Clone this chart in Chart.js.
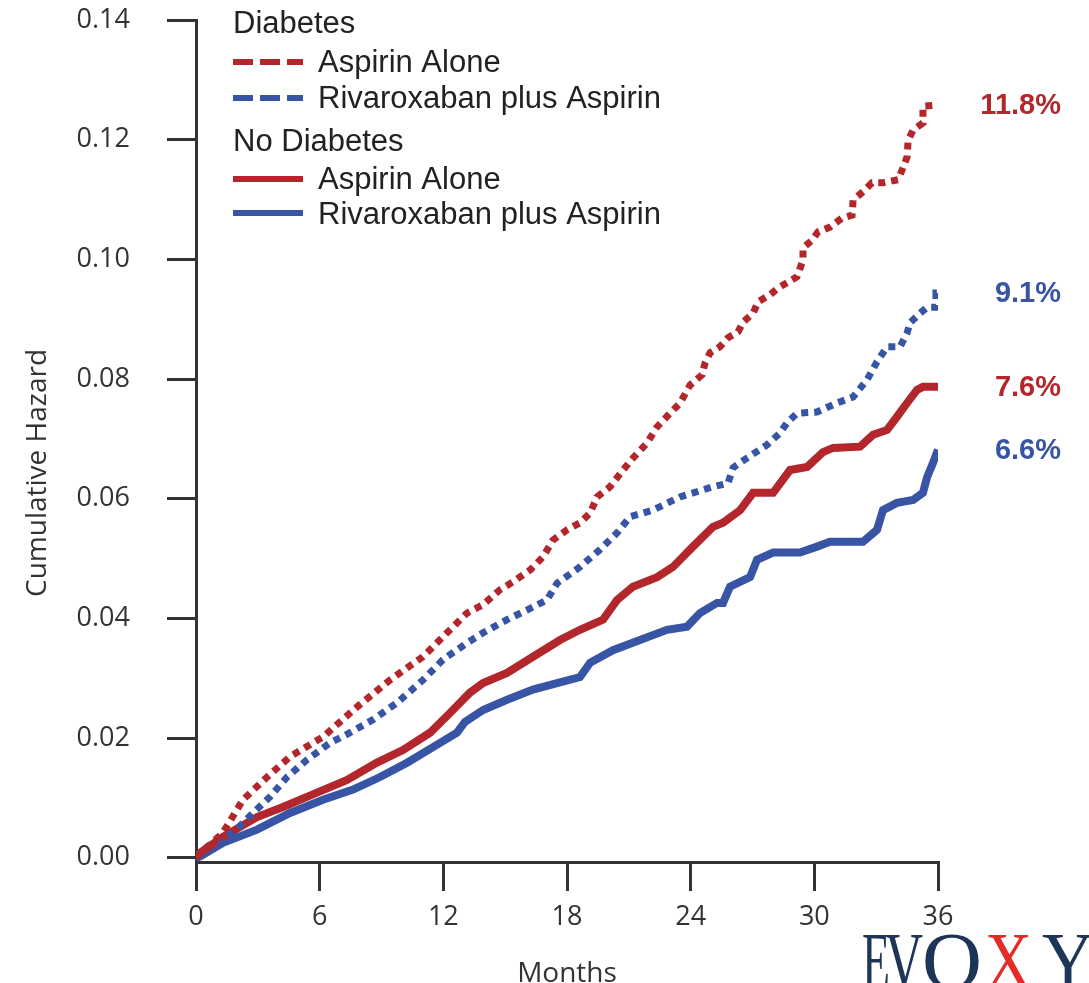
<!DOCTYPE html>
<html><head><meta charset="utf-8">
<script src="https://cdn.jsdelivr.net/npm/chart.js@4.4.0/dist/chart.umd.min.js"></script>
<style>html,body{margin:0;padding:0;background:#fff;}#wrap{width:1089px;height:983px;}</style>
</head><body><div id="wrap"><canvas id="c" width="1089" height="983"></canvas></div>
<script>
// ---- data ----
const xTicks = [0, 6, 12, 18, 24, 30, 36];
const yTicks = [0, 0.02, 0.04, 0.06, 0.08, 0.10, 0.12, 0.14];

const diabAspMonths = [0,0.68,1.31,2.28,3.45,4.56,6.16,7.81,9.41,11.01,12.18,13.15,13.93,14.75,15.38,16.21,16.84,17.32,18.0,18.63,19.12,19.46,20.09,20.72,21.2,21.88,22.37,23.0,23.49,23.97,24.55,24.7,24.94,25.42,25.81,26.3,26.54,27.03,27.27,27.85,28.24,28.68,29.16,29.45,29.45,29.89,30.18,30.76,31.34,31.83,31.88,32.36,32.8,33.33,34.06,34.3,34.5,34.55,34.79,35.27,35.27,36];
const diabAspHazard = [0,0.0022,0.0042,0.0097,0.0135,0.0169,0.0202,0.0252,0.0297,0.0336,0.0376,0.0409,0.0423,0.0448,0.0461,0.0481,0.0503,0.0531,0.0548,0.0560,0.0576,0.0603,0.0620,0.0648,0.0668,0.0693,0.0720,0.0743,0.0760,0.0790,0.0807,0.0827,0.0844,0.0854,0.0869,0.0879,0.0895,0.0910,0.0929,0.0941,0.0952,0.0961,0.0971,0.0999,0.1019,0.1032,0.1046,0.1054,0.1069,0.1074,0.1099,0.1113,0.1128,0.1128,0.1133,0.1153,0.1171,0.1199,0.1216,0.1228,0.1256,0.1258];

const diabRivMonths = [0,0.53,1.8,2.77,3.59,4.42,5.39,6.5,7.47,8.59,9.75,11.01,11.98,13.15,13.93,15.09,16.06,17.03,17.52,18.63,19.6,20.43,21.06,22.17,23.48,25.08,25.81,26.06,26.73,27.7,28.34,28.68,29.16,30.13,31.1,31.88,32.56,33.04,33.53,34.16,34.5,34.64,35.13,35.47,35.9,35.9,36];
const diabRivHazard = [0,0.0018,0.0042,0.0075,0.0102,0.0135,0.0164,0.0192,0.0209,0.0231,0.0259,0.0297,0.0331,0.0359,0.0376,0.0398,0.0414,0.0431,0.0459,0.0486,0.0515,0.0543,0.0570,0.0581,0.0603,0.0620,0.0626,0.0652,0.0668,0.0690,0.0710,0.0727,0.0743,0.0745,0.0760,0.0770,0.0799,0.0829,0.0854,0.0854,0.0877,0.0894,0.0910,0.0920,0.0920,0.0944,0.0944];

const noDiabAspMonths = [0,0.19,1.31,2.96,4.22,5.87,7.33,8.78,10.04,11.35,12.32,13.29,13.93,15.09,16.35,17.66,18.63,19.75,20.43,21.2,22.37,23.14,24.11,25.08,25.57,26.4,27.03,28.0,28.82,29.65,30.42,30.91,32.22,32.85,33.53,34.01,34.5,34.98,35.27,36];
const noDiabAspHazard = [0,0.0008,0.0035,0.0068,0.0085,0.0109,0.0130,0.0159,0.0180,0.0209,0.0242,0.0276,0.0292,0.0309,0.0336,0.0364,0.0381,0.0398,0.0431,0.0453,0.0469,0.0486,0.0520,0.0553,0.0560,0.0581,0.0610,0.0610,0.0648,0.0653,0.0678,0.0685,0.0687,0.0707,0.0715,0.0737,0.0760,0.0782,0.0787,0.0787];

const noDiabRivMonths = [0,0.19,1.31,2.96,4.56,6.16,7.62,8.93,10.24,11.5,12.66,13.05,13.93,15.09,16.35,17.52,18.63,19.12,20.23,21.54,22.85,23.82,24.45,25.28,25.57,25.91,26.88,27.22,28.0,29.3,30.13,30.76,32.36,33.04,33.33,34.01,34.79,35.27,35.47,35.76,36];
const noDiabRivHazard = [0,0.0002,0.0025,0.0047,0.0075,0.0097,0.0114,0.0135,0.0159,0.0185,0.0209,0.0227,0.0247,0.0264,0.0281,0.0292,0.0302,0.0326,0.0347,0.0364,0.0381,0.0386,0.0409,0.0426,0.0426,0.0453,0.0469,0.0498,0.0510,0.0510,0.0520,0.0528,0.0528,0.0548,0.0581,0.0593,0.0598,0.0610,0.0636,0.0660,0.0682];

const seriesNames = ['Diabetes: Aspirin Alone','Diabetes: Rivaroxaban plus Aspirin','No Diabetes: Aspirin Alone','No Diabetes: Rivaroxaban plus Aspirin'];
const endLabels = ['11.8%', '9.1%', '7.6%', '6.6%'];

// ---- styles ----
const RED = '#b2262c';
const BLUE = '#3854a4';
const AXIS = '#333333';

function pts(xs, ys) { return xs.map((x, i) => ({x: x, y: ys[i]})); }

const datasets = [
  {label: seriesNames[0], data: pts(diabAspMonths, diabAspHazard), borderColor: RED, borderDash: [7, 6], borderWidth: 7},
  {label: seriesNames[1], data: pts(diabRivMonths, diabRivHazard), borderColor: BLUE, borderDash: [7, 6], borderWidth: 7},
  {label: seriesNames[2], data: pts(noDiabAspMonths, noDiabAspHazard), borderColor: RED, borderWidth: 8},
  {label: seriesNames[3], data: pts(noDiabRivMonths, noDiabRivHazard), borderColor: BLUE, borderWidth: 8}
].map(d => Object.assign({pointRadius: 0, tension: 0, fill: false, borderCapStyle: 'butt', borderJoinStyle: 'miter'}, d));

const overlay = {
  id: 'overlay',
  afterDraw(chart) {
    const ctx = chart.ctx;
    const ys = chart.scales.y;
    ctx.save();
    // legend
    ctx.fillStyle = '#222';
    ctx.font = '31px "Liberation Sans", Arial, sans-serif';
    ctx.textAlign = 'left';
    ctx.textBaseline = 'alphabetic';
    ctx.fillText('Diabetes', 233, 33);
    ctx.fillText('No Diabetes', 233, 151);
    const items = [
      {y: 62, base: 72, color: RED, dash: [20, 7], text: 'Aspirin Alone'},
      {y: 98, base: 108, color: BLUE, dash: [20, 7], text: 'Rivaroxaban plus Aspirin'},
      {y: 179, base: 189, color: RED, dash: [], text: 'Aspirin Alone'},
      {y: 213, base: 224, color: BLUE, dash: [], text: 'Rivaroxaban plus Aspirin'}
    ];
    items.forEach(it => {
      ctx.beginPath();
      ctx.setLineDash(it.dash);
      ctx.strokeStyle = it.color;
      ctx.lineWidth = 6;
      ctx.lineCap = 'butt';
      ctx.moveTo(233, it.y);
      ctx.lineTo(303, it.y);
      ctx.stroke();
      ctx.setLineDash([]);
      ctx.fillStyle = '#222';
      ctx.fillText(it.text, 318, it.base);
    });
    // end labels
    const lastVals = [diabAspHazard, diabRivHazard, noDiabAspHazard, noDiabRivHazard].map(a => a[a.length - 1]);
    const lblColors = [RED, BLUE, RED, BLUE];
    ctx.font = 'bold 29px "Liberation Sans", Arial, sans-serif';
    ctx.textAlign = 'right';
    ctx.textBaseline = 'middle';
    endLabels.forEach((t, i) => {
      ctx.fillStyle = lblColors[i];
      ctx.fillText(t, 1061, ys.getPixelForValue(lastVals[i]) + 1);
    });
    // axis titles
    ctx.fillStyle = AXIS;
    ctx.font = '28px "Open Sans", sans-serif';
    ctx.textAlign = 'center';
    ctx.textBaseline = 'alphabetic';
    ctx.fillText('Months', 567, 982);
    ctx.save();
    ctx.translate(46, 473);
    ctx.rotate(-Math.PI / 2);
    ctx.fillText('Cumulative Hazard', 0, 0);
    ctx.restore();
    // watermark
    ctx.font = '80px "Liberation Serif", serif';
    ctx.textAlign = 'left';
    ctx.textBaseline = 'alphabetic';
    const wm = [['E', 862, 28, '#1d3557'], ['V', 885, 38, '#1d3557'], ['O', 922, 60, '#1d3557'], ['X', 985, 47, '#e52a2a'], ['Y', 1042, 52, '#1d3557']];
    wm.forEach(w => {
      const natural = ctx.measureText(w[0]).width;
      ctx.save();
      ctx.translate(w[1], 988);
      ctx.scale(w[2] / natural, 1);
      ctx.fillStyle = w[3];
      ctx.fillText(w[0], 0, 0);
      ctx.restore();
    });
    ctx.restore();
  }
};

new Chart(document.getElementById('c'), {
  type: 'line',
  data: {datasets: datasets},
  options: {
    responsive: false,
    devicePixelRatio: 1,
    animation: false,
    layout: {padding: {left: 0, top: 20, right: 151, bottom: 0}},
    plugins: {legend: {display: false}, tooltip: {enabled: false}, title: {display: false}},
    scales: {
      x: {
        type: 'linear', min: 0, max: 36,
        afterBuildTicks: s => { s.ticks = xTicks.map(v => ({value: v})); },
        afterFit: s => { s.height = 121; s.paddingLeft = 0; s.paddingRight = 0; },
        ticks: {font: {family: 'Open Sans', size: 27}, color: AXIS, padding: 10, maxRotation: 0, autoSkip: false},
        grid: {drawOnChartArea: false, drawTicks: true, tickLength: 29, tickWidth: 3, tickColor: AXIS, lineWidth: 3, color: AXIS},
        border: {display: true, color: AXIS, width: 3}
      },
      y: {
        min: -0.0007, max: 0.14,
        afterBuildTicks: s => { s.ticks = yTicks.map(v => ({value: v})); },
        afterFit: s => { s.width = 196; s.paddingTop = 0; s.paddingBottom = 0; },
        ticks: {font: {family: 'Open Sans', size: 27}, color: AXIS, padding: 37, autoSkip: false, callback: v => Number(v).toFixed(2)},
        grid: {drawOnChartArea: false, drawTicks: true, tickLength: 29, tickWidth: 3, tickColor: AXIS, lineWidth: 3, color: AXIS},
        border: {display: true, color: AXIS, width: 3}
      }
    }
  },
  plugins: [overlay]
});
</script></body></html>
